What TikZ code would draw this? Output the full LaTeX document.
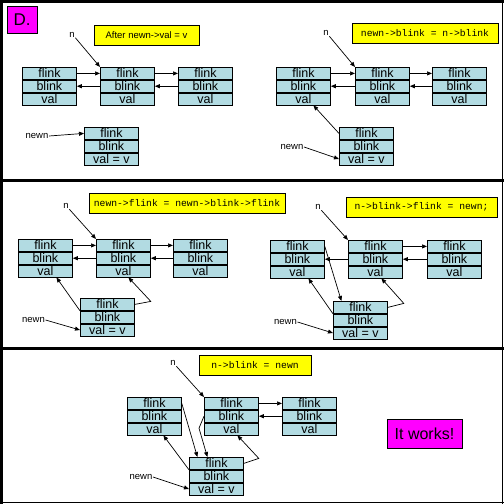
\documentclass[tikz,border=0pt]{standalone}
\usepackage{fontspec}
\setmainfont{Liberation Sans}
\setmonofont{Liberation Mono}
\usepackage{xcolor}
\usetikzlibrary{arrows.meta}

\definecolor{cellblue}{RGB}{178,219,226}
\definecolor{noteyellow}{RGB}{255,255,0}
\definecolor{magbox}{RGB}{255,0,255}

\begin{document}
\begin{tikzpicture}[x=1pt,y=-1pt,
  cell/.style={draw,fill=cellblue,line width=0.8pt,minimum width=54pt,minimum height=12pt,
    inner sep=0pt,font=\fontsize{12.5}{12.5}\selectfont},
  note/.style={draw,fill=noteyellow,line width=0.8pt,minimum height=20pt,inner sep=0pt,
    font=\ttfamily\fontsize{9.7}{9.7}\selectfont},
  lbl/.style={font=\fontsize{9.5}{9.5}\selectfont,inner sep=0.5pt},
  ptr/.style={line width=0.7pt,-{Triangle[length=5pt,width=4pt]}}]
  \useasboundingbox (0,0) rectangle (504,504);
  % frame and panel rules
  \draw[line width=3pt] (1.5,0) -- (1.5,504);
  \draw[line width=3pt] (0,1.5) -- (504,1.5);
  \draw[line width=1.5pt] (502.5,0) -- (502.5,504);
  \draw[line width=1.5pt] (0,502.5) -- (504,502.5);
  \draw[line width=3pt] (0,180.5) -- (504,180.5);
  \draw[line width=3pt] (0,348) -- (504,348);
  % list elements
  \foreach \nm/\x/\y/\v in {
    a1/22/67/val,a2/100/67/val,a3/178/67/val,an/84/127/val = v,
    b1/276/67/val,b2/355/67/val,b3/432/67/val,bn/339/127/val = v,
    c1/18/239/val,c2/96/239/val,c3/173/239/val,cn/80/298/val = v,
    d1/270/240/val,d2/348/240/val,d3/427/240/val,dn/333/301/val = v,
    e1/127/397/val,e2/204/397/val,e3/282/397/val,en/189/457/val = v}
  {
    \node[cell,anchor=north west] (\nm-f) at (\x,\y) {flink};
    \node[cell,anchor=north] (\nm-b) at (\nm-f.south) {blink};
    \node[cell,anchor=north] (\nm-v) at (\nm-b.south) {\v};
  }
  \foreach \p/\q in {a1/a2,a2/a3,b1/b2,b2/b3,c1/c2,c2/c3,d2/d3,e2/e3}
    \draw[ptr] (\p-f.east) -- (\q-f.west);
  \foreach \p/\q in {a2/a1,a3/a2,b2/b1,b3/b2,c2/c1,c3/c2,d2/d1,d3/d2,e3/e2}
    \draw[ptr] (\p-b.west) -- (\q-b.east);
  % n and newn pointers
  \foreach \s/\x/\y in {a/72/34.5,b/326/33,c/66/206,d/318/207,e/173/363} {
    \node[lbl] (n\s) at (\x,\y) {n};
    \draw[ptr] (n\s.south east) -- (\s2-f.north west);
  }
  \node[lbl] (newna) at (37,136) {newn};
  \draw[ptr] (newna.east) -- (an-f.west);
  \foreach \s/\x/\y in {b/292/147,c/33.5/320,d/285.5/322,e/141/477} {
    \node[lbl] (newn\s) at (\x,\y) {newn};
    \draw[ptr] (newn\s.east) -- (\s n-v.west);
  }
  % relinked pointers
  \draw[ptr] (bn-f.west) -- ([xshift=10pt]b1-v.south);
  \draw[ptr] (cn-f.south west) -- ([xshift=11pt]c1-v.south);
  \draw[ptr] (cn-f.east) -- ++(16,-3) -- ([xshift=5pt]c2-v.south);
  \draw[ptr] (d1-f.east) -- ([xshift=-19pt]dn-f.north);
  \draw[ptr] (dn-f.south west) -- ([xshift=11pt]d1-v.south);
  \draw[ptr] (dn-f.east) -- ++(16,-4) -- ([xshift=6pt]d2-v.south);
  \draw[ptr] (e1-f.east) -- ([xshift=-19pt]en-f.north);
  \draw[ptr] (e2-b.west) -- ++(-5,12) -- ([xshift=-9pt]en-f.north);
  \draw[ptr] (en-f.south west) -- ([xshift=9pt]e1-v.south);
  \draw[ptr] (en-f.east) -- ++(15,-5) -- ([xshift=6pt]e2-v.south);
  % captions
  \node[draw,fill=magbox,line width=0.8pt,minimum width=30pt,minimum height=27pt,inner sep=0pt,
    font=\fontsize{17}{17}\selectfont] (step) at (22,19.5) {D.};
  \node[note,minimum width=105pt,font=\fontsize{9.5}{9.5}\selectfont] (ta) at (146.5,35) {After newn->val = v};
  \node[note,minimum width=146pt] (tb) at (425,33) {newn->blink = n->blink};
  \node[note,minimum width=196pt] (tc) at (187,203) {newn->flink = newn->blink->flink};
  \node[note,minimum width=151pt] (td) at (421.5,207) {n->blink->flink = newn;};
  \node[note,minimum width=112pt] (te) at (255,365) {n->blink = newn};
  \node[draw,fill=magbox,line width=0.8pt,minimum width=75pt,minimum height=29pt,inner sep=0pt,
    font=\fontsize{16}{16}\selectfont] (works) at (424.5,433.5) {It works!};
\end{tikzpicture}
\end{document}
